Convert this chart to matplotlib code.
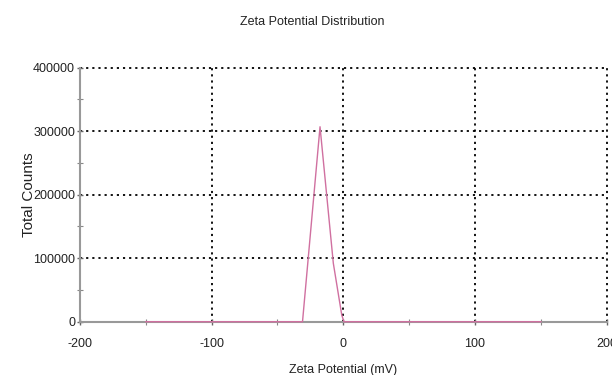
import matplotlib
matplotlib.use("Agg")
import matplotlib.pyplot as plt
from matplotlib.ticker import MultipleLocator

zeta_mv = [-150, -31, -17.7, -7.6, -1.2, 0.5, 150]
total_counts = [0, 0, 307000, 92000, 10500, 0, 0]

x_ticks = [-200, -100, 0, 100, 200]
y_ticks = [0, 100000, 200000, 300000, 400000]

plt.rcParams['font.family'] = ['Liberation Sans', 'DejaVu Sans']

fig = plt.figure(figsize=(6.12, 3.75), dpi=100)
ax = fig.add_axes([0.1307, 0.1421, 0.8606, 0.6774])

ax.plot(zeta_mv, total_counts, color='#d070a0', lw=1.0, zorder=3, clip_on=False)

ax.set_xlim(-200, 200)
ax.set_ylim(0, 400000)
ax.set_xticks(x_ticks)
ax.set_yticks(y_ticks)
ax.set_xticklabels([str(v) for v in x_ticks])
ax.set_yticklabels([str(v) for v in y_ticks])
ax.xaxis.set_minor_locator(MultipleLocator(50))
ax.yaxis.set_minor_locator(MultipleLocator(50000))

for s in ['top', 'right']:
    ax.spines[s].set_visible(False)
for s in ['left', 'bottom']:
    ax.spines[s].set_color('#999999')
    ax.spines[s].set_linewidth(1.5)
    ax.spines[s].set_zorder(2)

ax.tick_params(which='major', direction='inout', length=5, width=1.0, color='#666666',
               labelsize=9, labelcolor='#222222')
ax.tick_params(axis='x', which='major', pad=9)
ax.tick_params(axis='y', which='major', pad=1)
ax.tick_params(which='minor', direction='inout', length=4, width=0.8, color='#888888')

ax.grid(which='major', color='black', linestyle=(0, (1.2, 2.2)), linewidth=1.3)
ax.set_axisbelow(True)
for gl in ax.get_xgridlines() + ax.get_ygridlines():
    gl.set_clip_on(False)

ax.set_xlabel('Zeta Potential (mV)', fontsize=9, color='#222222', labelpad=10.5)
ax.set_ylabel('Total Counts', fontsize=11, color='#222222', labelpad=-2)
fig.text(312/612, 1 - 22/375, 'Zeta Potential Distribution', ha='center', va='center',
         fontsize=9, color='#222222')

fig.savefig('out.png', dpi=100)
